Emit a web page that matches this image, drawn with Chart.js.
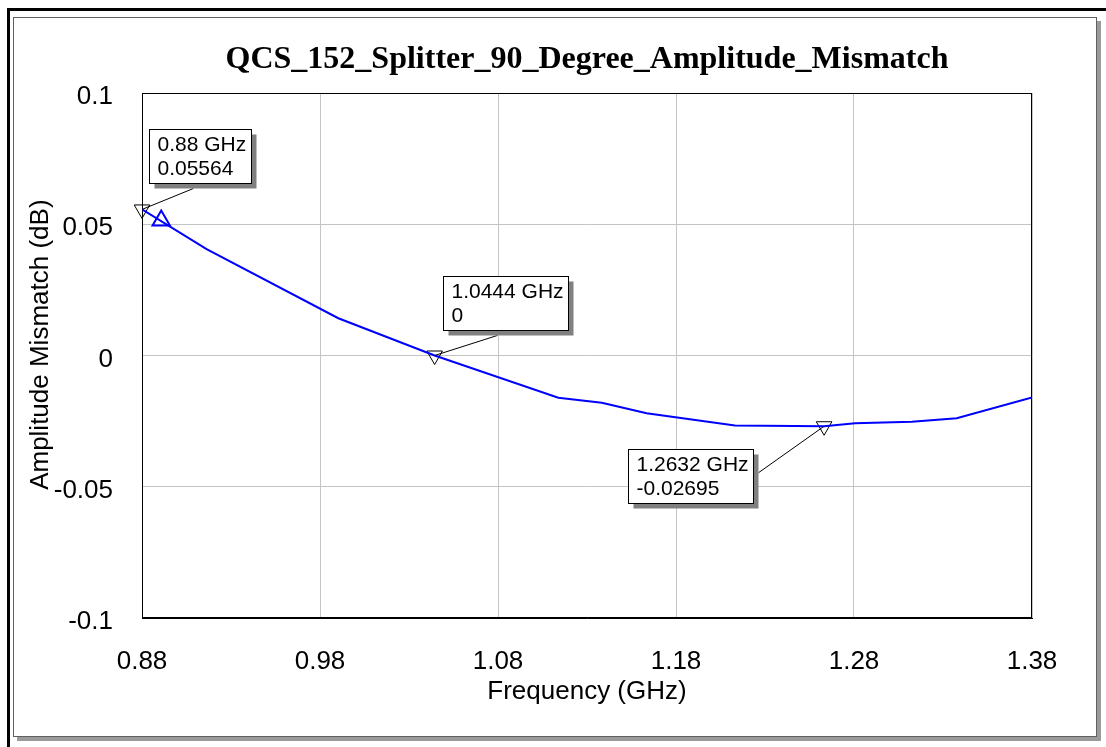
<!DOCTYPE html>
<html>
<head>
<meta charset="utf-8">
<script src="https://cdn.jsdelivr.net/npm/chart.js@4"></script>
<style>
  html, body { margin: 0; padding: 0; background: #fff; }
  #wrap { position: relative; width: 1106px; height: 747px; }
</style>
</head>
<body>
<div id="wrap"><canvas id="chart" width="1106" height="747"></canvas></div>
<script>
"use strict";

// trace (GHz / dB)
var freqGHz = [0.88, 0.9163, 0.9903, 1.0444, 1.1139, 1.1383, 1.1635, 1.2131, 1.2632, 1.2806, 1.3125, 1.3377, 1.38];
var mismatchDb = [0.05564, 0.0405, 0.0142, 0, -0.0161, -0.0180, -0.0220, -0.0267, -0.02695, -0.0258, -0.0252, -0.0239, -0.0160];

// markers m1..m3
var markerFreqs = [0.88, 1.0444, 1.2632];
var markerDb = [0.05564, 0, -0.02695];
var markerLabels = [
    ['0.88 GHz', '0.05564'],
    ['1.0444 GHz', '0'],
    ['1.2632 GHz', '-0.02695']
];

// trace symbol (blue triangle)
var symbolFreq = [0.8908];
var symbolDb = [0.0514];

var xTickLabels = ['0.88', '0.98', '1.08', '1.18', '1.28', '1.38'];
var yTickLabels = ['-0.1', '-0.05', '0', '0.05', '0.1'];

var sansFont = '"Liberation Sans", Arial, sans-serif';

function points(xs, ys) {
    var out = [];
    for (var i in xs) {
        out.push({ x: xs[i], y: ys[i] });
    }
    return out;
}

// window frame + inner box with shadow
var framePlugin = {
    id: 'frame',
    beforeDraw: function (chart) {
        var ctx = chart.ctx;
        ctx.save();
        ctx.fillStyle = '#fff';
        ctx.fillRect(0, 0, chart.width, chart.height);
        ctx.fillStyle = '#000';
        ctx.fillRect(7, 8, chart.width - 7, 3);
        ctx.fillRect(7, 8, 3, chart.height - 8);
        ctx.fillStyle = '#9a9a9a';
        ctx.fillRect(1097, 21, 4, 720);
        ctx.fillRect(17, 737, 1084, 4);
        ctx.strokeStyle = '#606060';
        ctx.lineWidth = 1;
        ctx.strokeRect(13.5, 17.5, 1083, 719);
        ctx.restore();
    },
    beforeDatasetsDraw: function (chart) {
        var a = chart.chartArea;
        var ctx = chart.ctx;
        ctx.save();
        ctx.strokeStyle = '#000';
        ctx.lineWidth = 1;
        ctx.strokeRect(Math.round(a.left) + 0.5, Math.round(a.top) + 0.5,
            Math.round(a.right - a.left) - 1, Math.round(a.bottom - a.top) - 1);
        ctx.restore();
    }
};

// marker readout boxes with leader lines
var markerBoxPlugin = {
    id: 'markerBoxes',
    afterDatasetsDraw: function (chart, args, opts) {
        var ctx = chart.ctx;
        var xs = chart.scales.x, ys = chart.scales.y;
        ctx.save();
        ctx.font = opts.fontSize + 'px ' + sansFont;
        for (var i = 0; i < markerFreqs.length; i++) {
            var px = xs.getPixelForValue(markerFreqs[i]);
            var py = ys.getPixelForValue(markerDb[i]);
            var off = opts.offsets[i];
            var lines = markerLabels[i];
            var w = Math.round(Math.max(ctx.measureText(lines[0]).width, ctx.measureText(lines[1]).width)) + 13;
            var h = opts.boxHeight;
            var bx = Math.round(px + off[0]) + 0.5;
            var by = Math.round(py + off[1]) + 0.5;
            var lx, ly;
            if (by + h < py) {
                lx = bx + w * 0.43;
                ly = by + h + opts.shadow;
            } else {
                lx = bx + w + opts.shadow;
                ly = by + h * 0.43;
            }
            ctx.strokeStyle = '#000';
            ctx.lineWidth = 1;
            ctx.beginPath();
            ctx.moveTo(px, py);
            ctx.lineTo(lx, ly);
            ctx.stroke();

            ctx.fillStyle = '#808080';
            ctx.fillRect(bx + opts.shadow, by + opts.shadow, w, h);
            ctx.fillStyle = '#fff';
            ctx.fillRect(bx, by, w, h);
            ctx.strokeRect(bx, by, w, h);

            ctx.fillStyle = '#000';
            ctx.textBaseline = 'middle';
            ctx.textAlign = 'left';
            ctx.fillText(lines[0], bx + 8, by + 16);
            ctx.fillText(lines[1], bx + 8, by + 40);
        }
        ctx.restore();
    }
};

var chart = new Chart(document.getElementById('chart').getContext('2d'), {
    type: 'scatter',
    data: {
        datasets: [
            {
                label: 'Amplitude Mismatch',
                data: points(freqGHz, mismatchDb),
                showLine: true,
                borderColor: '#0000ff',
                borderWidth: 2,
                pointRadius: 0,
                tension: 0
            }, {
                label: 'Markers',
                data: points(markerFreqs, markerDb),
                showLine: false,
                pointStyle: 'triangle',
                rotation: 180,
                pointRadius: 9,
                borderColor: '#000',
                borderWidth: 1,
                backgroundColor: 'rgba(0,0,0,0)',
                clip: false
            }, {
                label: 'Symbol',
                data: points(symbolFreq, symbolDb),
                showLine: false,
                pointStyle: 'triangle',
                pointRadius: 10,
                borderColor: '#0000ff',
                borderWidth: 2,
                backgroundColor: 'rgba(0,0,0,0)',
                clip: false
            }
        ]
    },
    options: {
        responsive: false,
        animation: false,
        events: [],
        layout: {
            padding: { left: 0, right: 74, top: 0, bottom: 0 }
        },
        plugins: {
            legend: { display: false },
            tooltip: { enabled: false },
            title: {
                display: true,
                text: 'QCS_152_Splitter_90_Degree_Amplitude_Mismatch',
                fullSize: false,
                color: '#000',
                font: { family: '"Liberation Serif", "Times New Roman", serif', size: 32, weight: 'bold' },
                padding: { top: 41, bottom: 13.6 }
            },
            markerBoxes: {
                fontSize: 21,
                boxHeight: 54,
                shadow: 5,
                offsets: [[7, -80], [8, -80], [-196, 23]]
            }
        },
        scales: {
            x: {
                type: 'linear',
                min: 0.88,
                max: 1.38,
                afterFit: function (scale) { scale.height = 129; },
                ticks: {
                    stepSize: 0.1,
                    autoSkip: false,
                    maxRotation: 0,
                    padding: 28,
                    color: '#000',
                    font: { family: sansFont, size: 26 },
                    callback: function (v, i) { return xTickLabels[i]; }
                },
                grid: { color: '#c4c4c4', drawTicks: false },
                border: { color: '#000' },
                title: {
                    display: true,
                    text: 'Frequency (GHz)',
                    color: '#000',
                    font: { family: sansFont, size: 26 },
                    padding: { top: 0, bottom: 40 }
                }
            },
            y: {
                type: 'linear',
                min: -0.1,
                max: 0.1,
                afterFit: function (scale) { scale.width = 142; },
                ticks: {
                    stepSize: 0.05,
                    padding: 29,
                    labelOffset: 4,
                    color: '#000',
                    font: { family: sansFont, size: 26 },
                    callback: function (v, i) { return yTickLabels[i]; }
                },
                grid: { color: '#c4c4c4', drawTicks: false },
                border: { color: '#000' },
                title: {
                    display: true,
                    // leading spaces nudge the centred title up a little, as in the original
                    text: '   Amplitude Mismatch (dB)',
                    color: '#000',
                    font: { family: sansFont, size: 26 },
                    padding: { top: 25, bottom: 0 }
                }
            }
        }
    },
    plugins: [framePlugin, markerBoxPlugin]
});
</script>
</body>
</html>
